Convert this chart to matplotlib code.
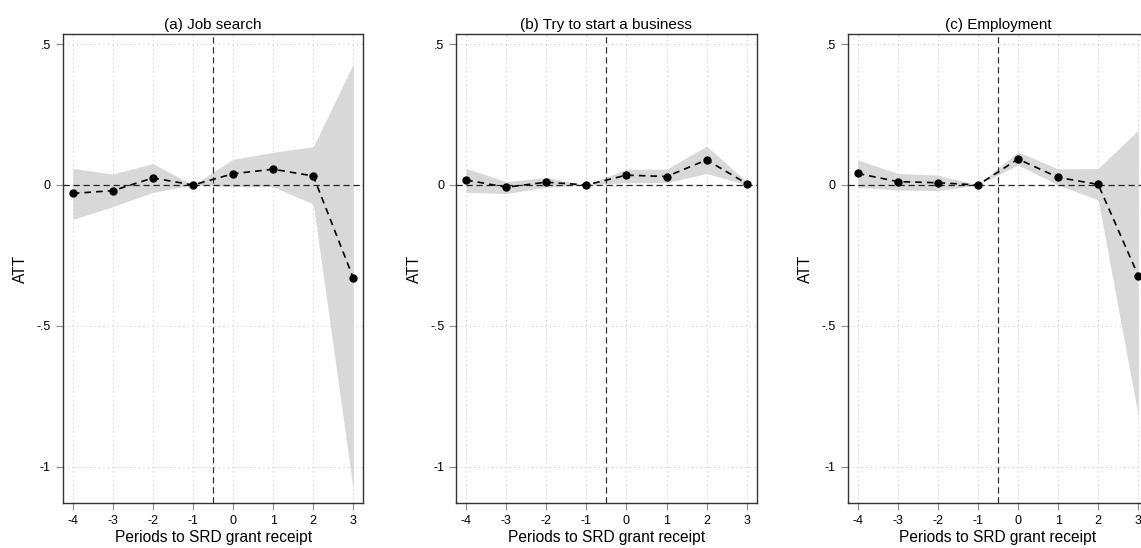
import matplotlib
matplotlib.use("Agg")
import matplotlib.pyplot as plt
import numpy as np

plt.rcParams['font.family'] = ['Liberation Sans', 'DejaVu Sans']

periods = [-4, -3, -2, -1, 0, 1, 2, 3]
titles = ["(a) Job search", "(b) Try to start a business", "(c) Employment"]

att_a = [-0.030, -0.020, 0.025, 0.0, 0.040, 0.056, 0.032, -0.331]
lo_a = [-0.122, -0.077, -0.026, 0.0, -0.006, -0.006, -0.068, -1.085]
hi_a = [0.059, 0.039, 0.076, 0.0, 0.091, 0.116, 0.136, 0.430]

att_b = [0.018, -0.008, 0.010, 0.0, 0.035, 0.030, 0.089, 0.005]
lo_b = [-0.026, -0.030, -0.008, 0.0, 0.008, 0.008, 0.041, 0.000]
hi_b = [0.059, 0.012, 0.027, 0.0, 0.056, 0.056, 0.138, 0.012]

att_c = [0.041, 0.012, 0.008, 0.0, 0.092, 0.027, 0.002, -0.322]
lo_c = [-0.008, -0.018, -0.020, 0.0, 0.071, 0.000, -0.053, -0.820]
hi_c = [0.089, 0.041, 0.035, 0.0, 0.118, 0.057, 0.059, 0.195]

yticks = [0.5, 0, -0.5, -1]
ytick_labels = [".5", "0", "-.5", "-1"]

series = [(att_a, lo_a, hi_a), (att_b, lo_b, hi_b), (att_c, lo_c, hi_c)]

fig = plt.figure(figsize=(11.41, 5.48), dpi=100)
lefts = [0.0550, 0.3997, 0.7429]
for i, (att, lo, hi) in enumerate(series):
    ax = fig.add_axes([lefts[i], 0.0816, 0.2635, 0.8558])
    ax.set_xlim(-4.25, 3.25)
    ax.set_ylim(-1.13, 0.535)
    ax.set_xticks(periods)
    ax.set_xticklabels([str(p) for p in periods])
    ax.set_yticks(yticks)
    ax.set_yticklabels(ytick_labels)
    ax.grid(True, color='#c8c8c8', linestyle=(0, (1, 3)), linewidth=0.8)
    ax.set_axisbelow(True)
    ax.fill_between(periods, lo, hi, color='#d8d8d8', linewidth=0, zorder=1)
    ax.axhline(0, color='#222222', linestyle=(0, (5, 3)), linewidth=0.9, zorder=2)
    ax.axvline(-0.5, color='#333333', linestyle=(0, (5, 3)), linewidth=0.9, zorder=2)
    ax.plot(periods, att, color='black', linestyle=(0, (4, 3)), linewidth=1.2,
            marker='o', markersize=5, zorder=3)
    ax.set_title(titles[i], fontsize=11, pad=4)
    ax.set_xlabel("Periods to SRD grant receipt", fontsize=11.2, labelpad=2)
    ax.set_ylabel("ATT", fontsize=11.2, labelpad=6)
    ax.tick_params(axis='both', labelsize=9, color='#888888', length=5, width=0.8)
    for s in ax.spines.values():
        s.set_color('#333333')
        s.set_linewidth(1.0)

fig.savefig("out.png", dpi=100)
